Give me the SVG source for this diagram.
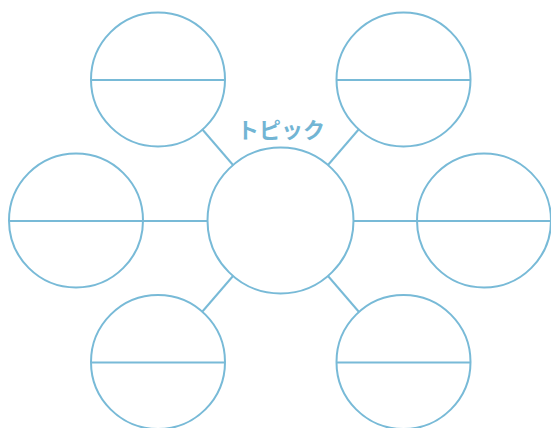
<svg xmlns="http://www.w3.org/2000/svg" width="551" height="428" viewBox="0 0 551 428">
<style>
.c{fill:#fff;stroke:#78bad7;stroke-width:2}
.l{stroke:#78bad7;stroke-width:2;fill:none}
.t{font-family:"Noto Sans CJK JP","Noto Sans",sans-serif;font-weight:bold;font-size:22px;fill:#72b5d4;text-anchor:middle}
</style>
<g id="connectors">
<line class="l" x1="233" y1="165" x2="202" y2="129"/>
<line class="l" x1="328" y1="165" x2="359" y2="129"/>
<line class="l" x1="207.5" y1="221" x2="143" y2="221"/>
<line class="l" x1="353.5" y1="221" x2="418" y2="221"/>
<line class="l" x1="233" y1="276" x2="202" y2="312"/>
<line class="l" x1="328" y1="276" x2="359" y2="312"/>
</g>
<g id="center">
<circle class="c" cx="280.5" cy="220.5" r="73"/>
<text class="t" x="281" y="138">トピック</text>
</g>
<g id="top-left">
<circle class="c" cx="158" cy="79.5" r="67"/>
<line class="l" x1="91" y1="80" x2="225" y2="80"/>
</g>
<g id="top-right">
<circle class="c" cx="403.5" cy="79.5" r="67"/>
<line class="l" x1="336.5" y1="80" x2="470.5" y2="80"/>
</g>
<g id="left">
<circle class="c" cx="76" cy="220.5" r="67"/>
<line class="l" x1="9" y1="221" x2="143" y2="221"/>
</g>
<g id="right">
<circle class="c" cx="484" cy="220.5" r="67"/>
<line class="l" x1="417" y1="221" x2="551" y2="221"/>
</g>
<g id="bottom-left">
<circle class="c" cx="158" cy="362" r="67"/>
<line class="l" x1="91" y1="362.5" x2="225" y2="362.5"/>
</g>
<g id="bottom-right">
<circle class="c" cx="403.5" cy="362" r="67"/>
<line class="l" x1="336.5" y1="362.5" x2="470.5" y2="362.5"/>
</g>
</svg>
